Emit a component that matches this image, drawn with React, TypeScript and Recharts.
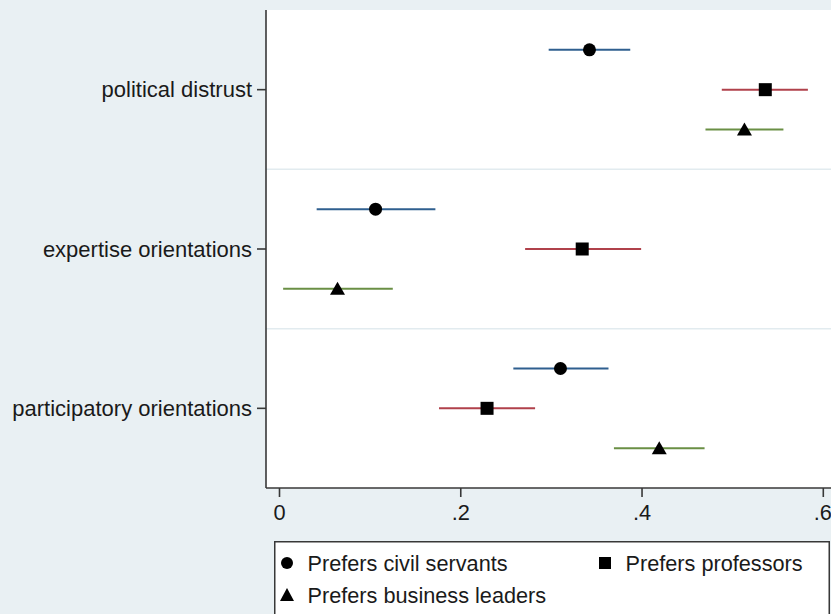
import React from "react";
import {
  ScatterChart,
  Scatter,
  XAxis,
  YAxis,
  ErrorBar,
  ReferenceLine,
  CartesianGrid,
} from "recharts";

const categories = [
  "political distrust",
  "expertise orientations",
  "participatory orientations",
];

const seriesNames = [
  "Prefers civil servants",
  "Prefers professors",
  "Prefers business leaders",
];

// point estimates and 95% CI bounds, one entry per category
const civilEst = [0.342, 0.106, 0.31];
const civilLow = [0.297, 0.041, 0.258];
const civilHigh = [0.387, 0.172, 0.363];

const profEst = [0.536, 0.334, 0.229];
const profLow = [0.488, 0.271, 0.176];
const profHigh = [0.583, 0.399, 0.282];

const bizEst = [0.513, 0.064, 0.419];
const bizLow = [0.47, 0.004, 0.369];
const bizHigh = [0.556, 0.125, 0.469];

const xTicks = [0, 0.2, 0.4, 0.6];

const FONT = "'Liberation Sans', Arial, Helvetica, sans-serif";
const AXIS = "#383838";
const TEXT = "#1a1a1a";
const BLUE = "#2f5f8f";
const RED = "#b0414b";
const GREEN = "#6a8f45";

function rows(est: number[], low: number[], high: number[], offset: number) {
  return categories.map((name, i) => ({
    name,
    pos: i + 1 + offset,
    est: est[i],
    err: [est[i] - low[i], high[i] - est[i]],
  }));
}

const civilRows = rows(civilEst, civilLow, civilHigh, -0.25);
const profRows = rows(profEst, profLow, profHigh, 0);
const bizRows = rows(bizEst, bizLow, bizHigh, 0.25);

const Dot = (p: any) => <circle cx={p.cx} cy={p.cy} r={6.5} fill="#000" />;
const Box = (p: any) => (
  <rect x={p.cx - 6.5} y={p.cy - 6.5} width={13} height={13} fill="#000" />
);
const Tri = (p: any) => (
  <polygon
    points={`${p.cx - 7.5},${p.cy + 6} ${p.cx + 7.5},${p.cy + 6} ${p.cx},${p.cy - 7}`}
    fill="#000"
  />
);

const fmtX = (v: number) => (v === 0 ? "0" : v.toFixed(1).replace(/^0/, ""));

export default function App() {
  return (
    <div
      style={{
        position: "absolute",
        left: 0,
        top: 0,
        width: 831,
        height: 614,
        overflow: "hidden",
        background: "#e9f0f3",
        fontFamily: FONT,
      }}
    >
      <ScatterChart
        width={831}
        height={528}
        margin={{ top: 10, right: 0, left: 0, bottom: 0 }}
      >
        <CartesianGrid fill="#fff" fillOpacity={1} horizontal={false} vertical={false} />
        <ReferenceLine y={1.5} stroke="#e2ebef" strokeWidth={1.5} />
        <ReferenceLine y={2.5} stroke="#e2ebef" strokeWidth={1.5} />
        <XAxis
          type="number"
          dataKey="est"
          domain={[-0.0149, 0.6085]}
          allowDataOverflow
          ticks={xTicks}
          tickFormatter={fmtX}
          height={40}
          tickSize={9}
          tickMargin={8}
          stroke={AXIS}
          strokeWidth={1.6}
          tick={{ fontSize: 21.8, fill: TEXT, fontFamily: FONT }}
        />
        <YAxis
          type="number"
          dataKey="pos"
          domain={[0.5, 3.5]}
          reversed
          ticks={[1, 2, 3]}
          tickFormatter={(v: number) => categories[v - 1]}
          width={266}
          tickSize={9}
          tickMargin={5}
          stroke={AXIS}
          strokeWidth={1.6}
          tick={{ fontSize: 22, fill: TEXT, fontFamily: FONT }}
        />
        <Scatter name={seriesNames[0]} data={civilRows} shape={Dot} isAnimationActive={false}>
          <ErrorBar dataKey="err" direction="x" width={0} stroke={BLUE} strokeWidth={2} isAnimationActive={false} />
        </Scatter>
        <Scatter name={seriesNames[1]} data={profRows} shape={Box} isAnimationActive={false}>
          <ErrorBar dataKey="err" direction="x" width={0} stroke={RED} strokeWidth={2} isAnimationActive={false} />
        </Scatter>
        <Scatter name={seriesNames[2]} data={bizRows} shape={Tri} isAnimationActive={false}>
          <ErrorBar dataKey="err" direction="x" width={0} stroke={GREEN} strokeWidth={2} isAnimationActive={false} />
        </Scatter>
      </ScatterChart>

      <svg
        width={831}
        height={614}
        style={{ position: "absolute", left: 0, top: 0, pointerEvents: "none" }}
      >
        <rect x={274.75} y={541.75} width={554.5} height={90} fill="#fff" stroke={AXIS} strokeWidth={1.5} />
        <circle cx={287} cy={563} r={6} fill="#000" />
        <rect x={599} y={557} width={12} height={12} fill="#000" />
        <polygon points="280,601 294,601 287,588" fill="#000" />
        <g fontSize={21.7} fill={TEXT} fontFamily={FONT}>
          <text x={307.5} y={571}>{seriesNames[0]}</text>
          <text x={625.5} y={571}>{seriesNames[1]}</text>
          <text x={307.5} y={603}>{seriesNames[2]}</text>
        </g>
      </svg>
    </div>
  );
}
